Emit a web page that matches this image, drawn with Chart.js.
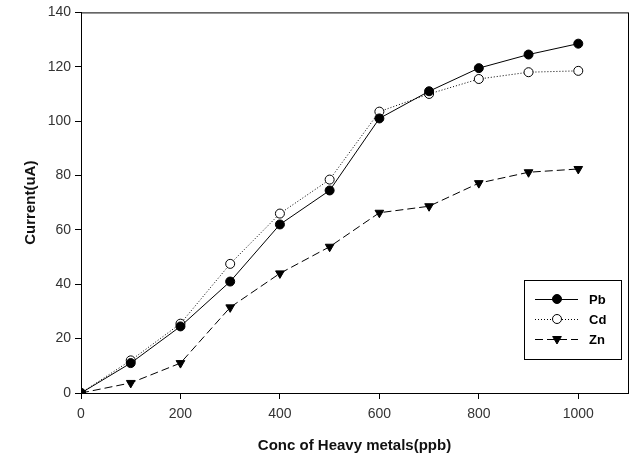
<!DOCTYPE html>
<html lang="en">
<head>
    <meta charset="UTF-8">
    <title>Current vs Conc of Heavy metals</title>
    <script src="https://cdn.jsdelivr.net/npm/chart.js@4.4.0/dist/chart.umd.min.js"></script>
    <style>
        html, body { margin: 0; padding: 0; background: #fff; }
        #wrap { width: 636px; height: 459px; position: relative; }
    </style>
</head>
<body>
    <div id="wrap"><canvas id="chart"></canvas></div>
    <script>
        // data
        const concentrations = [0, 100, 200, 300, 400, 500, 600, 700, 800, 900, 1000];
        const pbValues = [0, 11, 24.5, 41, 62, 74.5, 101, 111, 119.5, 124.5, 128.5];
        const cdValues = [0, 12, 25.5, 47.5, 66, 78.5, 103.5, 110, 115.5, 118, 118.5];
        const znValues = [0, 3.7, 11, 31.5, 44, 53.8, 66.3, 68.7, 77.2, 81.2, 82.4];
        const xTicks = [0, 200, 400, 600, 800, 1000];
        const yTicks = [0, 20, 40, 60, 80, 100, 120, 140];

        const toPoints = vals => concentrations.map((c, i) => ({ x: c, y: vals[i] }));

        // box around the plot area
        const frame = {
            id: 'frame',
            afterDraw(chart) {
                const { ctx, chartArea: a } = chart;
                ctx.save();
                ctx.strokeStyle = '#000';
                ctx.lineWidth = 1;
                ctx.strokeRect(a.left + 0.5, a.top + 0.5, a.right - a.left, a.bottom - a.top);
                ctx.restore();
            }
        };

        // legend drawn inside the plot, lower right
        const boxLegend = {
            id: 'boxLegend',
            afterDraw(chart) {
                const ctx = chart.ctx;
                const x = 524, y = 280, w = 97, h = 79;
                ctx.save();
                ctx.fillStyle = '#fff';
                ctx.fillRect(x, y, w, h);
                ctx.strokeStyle = '#000';
                ctx.lineWidth = 1;
                ctx.strokeRect(x + 0.5, y + 0.5, w, h);
                chart.data.datasets.forEach((ds, i) => {
                    const cy = y + 19 + i * 20;
                    ctx.beginPath();
                    ctx.setLineDash(ds.borderDash || []);
                    ctx.strokeStyle = '#000';
                    ctx.lineWidth = 1;
                    ctx.moveTo(x + 11, cy + 0.5);
                    ctx.lineTo(x + 54, cy + 0.5);
                    ctx.stroke();
                    ctx.setLineDash([]);
                    ctx.fillStyle = ds.pointBackgroundColor;
                    ctx.strokeStyle = ds.pointBorderColor;
                    Chart.helpers.drawPoint(ctx, {
                        pointStyle: ds.pointStyle,
                        rotation: ds.pointRotation || 0,
                        radius: ds.pointRadius,
                        borderWidth: 1
                    }, x + 33, cy);
                    ctx.fillStyle = '#000';
                    ctx.font = 'bold 13px "Liberation Sans", Arial, sans-serif';
                    ctx.textBaseline = 'middle';
                    ctx.fillText(ds.label, x + 65, cy + 1);
                });
                ctx.restore();
            }
        };

        const tickFont = { family: '"Liberation Sans", Arial, sans-serif', size: 14 };
        const titleFont = { family: '"Liberation Sans", Arial, sans-serif', size: 15, weight: 'bold' };

        new Chart(document.getElementById('chart'), {
            type: 'line',
            data: {
                datasets: [{
                    label: 'Pb',
                    data: toPoints(pbValues),
                    borderColor: '#000',
                    borderWidth: 1,
                    pointStyle: 'circle',
                    pointRadius: 4.5,
                    pointBackgroundColor: '#000',
                    pointBorderColor: '#000',
                    pointBorderWidth: 1
                }, {
                    label: 'Cd',
                    data: toPoints(cdValues),
                    borderColor: '#000',
                    borderWidth: 1,
                    borderDash: [1, 2],
                    pointStyle: 'circle',
                    pointRadius: 4.5,
                    pointBackgroundColor: '#fff',
                    pointBorderColor: '#000',
                    pointBorderWidth: 1
                }, {
                    label: 'Zn',
                    data: toPoints(znValues),
                    borderColor: '#000',
                    borderWidth: 1,
                    borderDash: [8, 4],
                    pointStyle: 'triangle',
                    pointRotation: 180,
                    pointRadius: 5,
                    pointBackgroundColor: '#000',
                    pointBorderColor: '#000',
                    pointBorderWidth: 1
                }]
            },
            options: {
                responsive: true,
                maintainAspectRatio: false,
                animation: false,
                layout: { padding: { top: 11, right: 8, left: 0, bottom: 0 } },
                plugins: {
                    legend: { display: false },
                    tooltip: { enabled: false }
                },
                scales: {
                    x: {
                        type: 'linear',
                        min: 0,
                        max: 1100,
                        afterBuildTicks: s => { s.ticks = xTicks.map(v => ({ value: v })); },
                        afterFit: s => { s.height = 66; },
                        grid: { drawOnChartArea: false, tickLength: 6, color: '#000' },
                        border: { color: '#000' },
                        ticks: { font: tickFont, color: '#333', padding: 7, maxRotation: 0, callback: v => String(v) },
                        title: { display: true, text: 'Conc of Heavy metals(ppb)', font: titleFont, color: '#111', padding: { top: 6 } }
                    },
                    y: {
                        min: 0,
                        max: 140,
                        afterBuildTicks: s => { s.ticks = yTicks.map(v => ({ value: v })); },
                        afterFit: s => { s.width = 81; },
                        grid: { drawOnChartArea: false, tickLength: 6, color: '#000' },
                        border: { color: '#000' },
                        ticks: { font: tickFont, color: '#333', padding: 4, callback: v => String(v) },
                        title: { display: true, text: 'Current(uA)', font: titleFont, color: '#111', padding: { top: 22, bottom: 0 } }
                    }
                }
            },
            plugins: [frame, boxLegend]
        });
    </script>
</body>
</html>
